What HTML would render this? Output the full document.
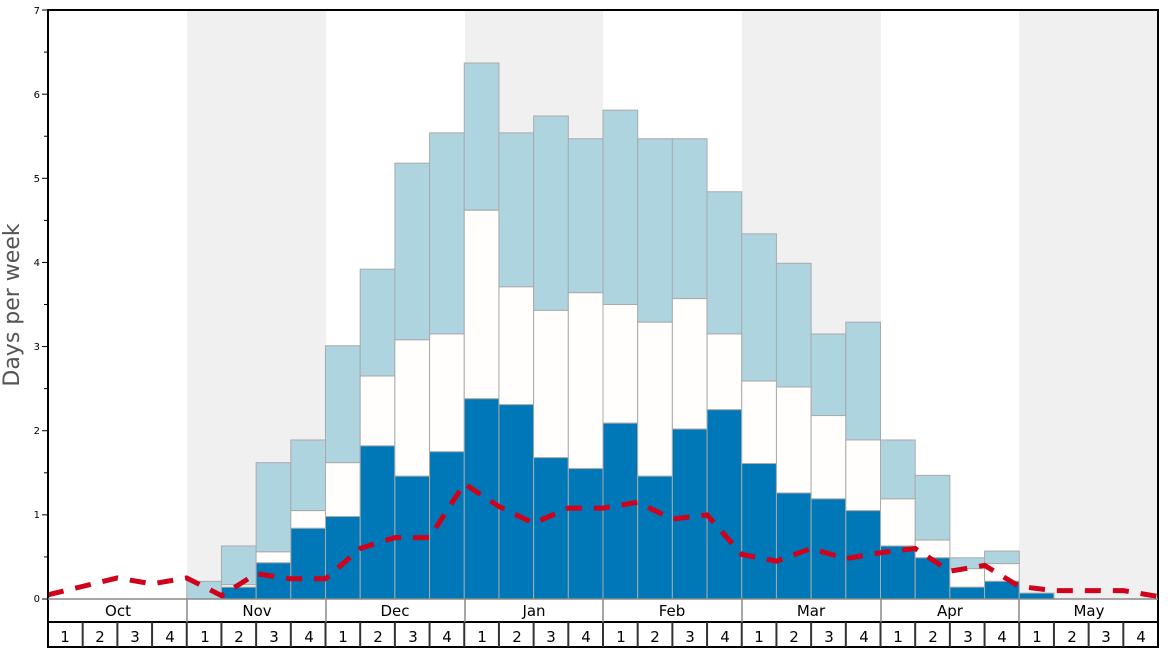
<!DOCTYPE html>
<html><head><meta charset="utf-8"><style>
html,body{margin:0;padding:0;background:#fff;width:1168px;height:648px;overflow:hidden;font-family:"DejaVu Sans","Liberation Sans",sans-serif}
</style></head><body>
<svg id="s" width="1168" height="648" viewBox="0 0 1168 648" xmlns="http://www.w3.org/2000/svg">
<rect x="187" y="10" width="139" height="589" fill="#f0f0f0"/>
<rect x="465" y="10" width="138" height="589" fill="#f0f0f0"/>
<rect x="742" y="10" width="139" height="589" fill="#f0f0f0"/>
<rect x="1019" y="10" width="139" height="589" fill="#f0f0f0"/>
<g id="bars"></g>
<polyline id="line" fill="none" stroke="#d0021b" stroke-width="5" stroke-dasharray="16,12"/>
<rect x="48" y="10" width="1110" height="637" fill="none" stroke="#000" stroke-width="2"/>
<line x1="48" y1="599" x2="1158" y2="599" stroke="#888" stroke-width="1.5"/>
<line x1="48" y1="622" x2="1158" y2="622" stroke="#000" stroke-width="2"/>
<g stroke="#888" stroke-width="1.5">
<line x1="187" y1="599" x2="187" y2="622"/><line x1="326" y1="599" x2="326" y2="622"/><line x1="465" y1="599" x2="465" y2="622"/><line x1="603" y1="599" x2="603" y2="622"/><line x1="742" y1="599" x2="742" y2="622"/><line x1="881" y1="599" x2="881" y2="622"/><line x1="1019" y1="599" x2="1019" y2="622"/>
</g>
<g id="wk" stroke="#333" stroke-width="2"></g>
<g font-size="10" fill="#000" text-anchor="end">
<text x="40" y="602">0</text><text x="40" y="518">1</text><text x="40" y="434">2</text><text x="40" y="350">3</text><text x="40" y="266">4</text><text x="40" y="182">5</text><text x="40" y="98">6</text><text x="40" y="14">7</text>
</g>
<g id="ticks" stroke="#000" stroke-width="1"></g>
<text transform="translate(19,305) rotate(-90)" font-size="22" fill="#555" text-anchor="middle">Days per week</text>
<g font-size="15" fill="#000" text-anchor="middle">
<text x="118" y="616">Oct</text><text x="257" y="616">Nov</text><text x="395" y="616">Dec</text><text x="534" y="616">Jan</text><text x="672" y="616">Feb</text><text x="811" y="616">Mar</text><text x="950" y="616">Apr</text><text x="1089" y="616">May</text>
</g>
<g font-size="15" fill="#000" text-anchor="middle">
<text x="65" y="642">1</text><text x="100" y="642">2</text><text x="135" y="642">3</text><text x="170" y="642">4</text>
<text x="205" y="642">1</text><text x="239" y="642">2</text><text x="274" y="642">3</text><text x="309" y="642">4</text>
<text x="343" y="642">1</text><text x="378" y="642">2</text><text x="413" y="642">3</text><text x="447" y="642">4</text>
<text x="482" y="642">1</text><text x="517" y="642">2</text><text x="551" y="642">3</text><text x="586" y="642">4</text>
<text x="621" y="642">1</text><text x="655" y="642">2</text><text x="690" y="642">3</text><text x="725" y="642">4</text>
<text x="759" y="642">1</text><text x="794" y="642">2</text><text x="829" y="642">3</text><text x="864" y="642">4</text>
<text x="898" y="642">1</text><text x="933" y="642">2</text><text x="968" y="642">3</text><text x="1002" y="642">4</text>
<text x="1037" y="642">1</text><text x="1072" y="642">2</text><text x="1106" y="642">3</text><text x="1141" y="642">4</text>
</g>
</svg>
<script>
var NS="http://www.w3.org/2000/svg",W=34.6875,Y=function(v){return 599-84.14*v};
function el(p,t,a){var e=document.createElementNS(NS,t);for(var k in a)e.setAttribute(k,a[k]);p.appendChild(e);return e}
var d={4:[0,0,0.21],5:[0.14,0.17,0.63],6:[0.43,0.56,1.62],7:[0.84,1.05,1.89],8:[0.98,1.62,3.01],9:[1.82,2.65,3.92],10:[1.46,3.08,5.18],11:[1.75,3.15,5.54],12:[2.38,4.62,6.37],13:[2.31,3.71,5.54],14:[1.68,3.43,5.74],15:[1.55,3.64,5.47],16:[2.09,3.50,5.81],17:[1.46,3.29,5.47],18:[2.02,3.57,5.47],19:[2.25,3.15,4.84],20:[1.61,2.59,4.34],21:[1.26,2.52,3.99],22:[1.19,2.18,3.15],23:[1.05,1.89,3.29],24:[0.63,1.19,1.89],25:[0.49,0.70,1.47],26:[0.14,0.36,0.49],27:[0.21,0.42,0.57],28:[0.07,0.07,0.07]};
var g=document.getElementById("bars");
for(var k in d){var x=48+W*k,a=d[k];
 if(a[2]>a[1])el(g,"rect",{x:x,y:Y(a[2]),width:W,height:Y(a[1])-Y(a[2]),fill:"#aed4e0",stroke:"#aaa","stroke-width":1});
 if(a[1]>a[0])el(g,"rect",{x:x,y:Y(a[1]),width:W,height:Y(a[0])-Y(a[1]),fill:"#fffefc",stroke:"#aaa","stroke-width":1});
 if(a[0]>0)el(g,"rect",{x:x,y:Y(a[0]),width:W,height:599-Y(a[0]),fill:"#0077b6",stroke:"#aaa","stroke-width":1});}
var L=[0.05,0.15,0.25,0.18,0.25,0.04,0.3,0.24,0.24,0.6,0.73,0.73,1.37,1.1,0.9,1.08,1.08,1.15,0.95,1.0,0.53,0.45,0.6,0.48,0.55,0.6,0.33,0.4,0.15,0.1,0.1,0.1,0.03];
document.getElementById("line").setAttribute("points",L.map(function(v,i){return (48+W*i)+","+Y(v)}).join(" "));
var w=document.getElementById("wk");for(var i=1;i<32;i++){var x=48+W*i;el(w,"line",{x1:x,y1:622,x2:x,y2:647})}
var t=document.getElementById("ticks");for(var i=0;i<=14;i++){var y=Y(i/2);el(t,"line",{x1:i%2?44:42,y1:y,x2:48,y2:y})}
</script>
</body></html>
